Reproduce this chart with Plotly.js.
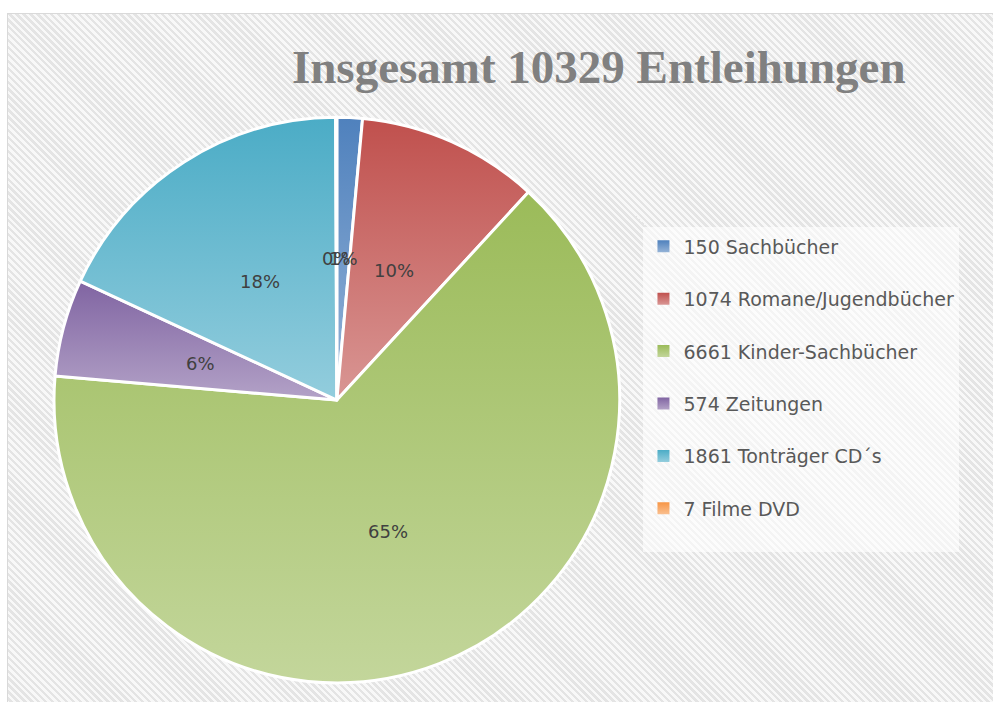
<!DOCTYPE html>
<html>
<head>
<meta charset="utf-8">
<script src="https://cdn.plot.ly/plotly-3.0.1.min.js"></script>
<style>
  html, body { margin: 0; padding: 0; background: #ffffff; }
  #wrap { position: relative; width: 993px; height: 702px; overflow: hidden; }
  #hatch {
    position: absolute; left: 7px; top: 13px; width: 1000px; height: 700px;
    border: 1px solid #d9d9d9;
    background: repeating-linear-gradient(45deg, #e4e4e4 0px, #e4e4e4 2.4px, #f8f8f8 2.4px, #f8f8f8 4.9px);
  }
  #chart { position: absolute; left: 0; top: 0; width: 993px; height: 702px; }
</style>
</head>
<body>
<div id="wrap">
  <div id="hatch"></div>
  <div id="chart"></div>
</div>
<script>
// ---- data ----
const categories = ["Sachbücher", "Romane/Jugendbücher", "Kinder-Sachbücher", "Zeitungen", "Tonträger CD´s", "Filme DVD"];
const counts = [150, 1074, 6661, 574, 1861, 7];
const legendLabels = ["150 Sachbücher", "1074 Romane/Jugendbücher", "6661 Kinder-Sachbücher", "574 Zeitungen", "1861 Tonträger CD´s", "7 Filme DVD"];
const chartTitle = "Insgesamt 10329 Entleihungen";

// ---- style ----
const baseColors = ["#4F81BD", "#C0504D", "#9BBB59", "#8064A2", "#4BACC6", "#F79646"];
const lightColors = ["#95B3D7", "#D99694", "#C3D69B", "#B3A2C7", "#93CDDD", "#FAC090"];
const midColors = ["#6F98C9", "#CC7370", "#AFC87A", "#9A83B5", "#6FBDD2", "#F8AB6B"];
const W = 993, H = 702;
const pieDomain = { x: [0.0544, 0.624], y: [0.027, 0.8333] };
const labelRadiusFrac = 0.5;   // data labels sit at half the radius on each slice bisector

const trace = {
  type: "pie",
  labels: legendLabels.map(s => s + "<br> "),  // blank second line = wider legend spacing
  values: counts,
  sort: false,
  direction: "clockwise",
  rotation: 0,
  marker: { colors: midColors, line: { color: "#ffffff", width: 3 } },
  textinfo: "none",
  hoverinfo: "label+percent",
  domain: pieDomain
};

// data labels (percentages) placed on slice bisectors, derived from the values
const total = counts.reduce((a, b) => a + b, 0);
const cx = (pieDomain.x[0] + pieDomain.x[1]) / 2;
const cy = (pieDomain.y[0] + pieDomain.y[1]) / 2;
const rPx = Math.min((pieDomain.x[1] - pieDomain.x[0]) * W, (pieDomain.y[1] - pieDomain.y[0]) * H) / 2;
let cum = 0;
const annotations = counts.map((v) => {
  const mid = (cum + v / 2) / total;
  cum += v;
  const ang = mid * 2 * Math.PI;
  return {
    xref: "paper", yref: "paper",
    x: cx + labelRadiusFrac * rPx * Math.sin(ang) / W,
    y: cy + labelRadiusFrac * rPx * Math.cos(ang) / H,
    xanchor: "center", yanchor: "middle",
    text: Math.round(100 * v / total) + "%",
    showarrow: false,
    font: { family: "DejaVu Sans, sans-serif", size: 18, color: "#404040" }
  };
});

const layout = {
  width: W, height: H,
  margin: { l: 0, r: 0, t: 0, b: 0 },
  paper_bgcolor: "rgba(0,0,0,0)",
  plot_bgcolor: "rgba(0,0,0,0)",
  title: {
    text: "<b>" + chartTitle + "</b>",
    font: { family: "Liberation Serif, serif", size: 47, color: "#808080" },
    x: 0.603, xanchor: "center", xref: "container",
    y: 0.905, yanchor: "middle", yref: "container"
  },
  annotations: annotations,
  showlegend: true,
  legend: {
    x: 0.648, xanchor: "left",
    y: 0.676, yanchor: "top",
    bgcolor: "rgba(255,255,255,0.6)",
    font: { family: "DejaVu Sans, sans-serif", size: 19, color: "#595959" },
    valign: "top",
    traceorder: "normal"
  }
};

Plotly.newPlot("chart", [trace], layout, { displayModeBar: false, staticPlot: true }).then(gd => {
  // vertical gradient (dark top -> light bottom) on each slice, like the original
  const svg = gd.querySelector("svg.main-svg");
  const ns = "http://www.w3.org/2000/svg";
  let defs = svg.querySelector("defs");
  if (!defs) { defs = document.createElementNS(ns, "defs"); svg.insertBefore(defs, svg.firstChild); }
  baseColors.forEach((c, i) => {
    const g = document.createElementNS(ns, "linearGradient");
    g.setAttribute("id", "grad" + i);
    g.setAttribute("x1", "0"); g.setAttribute("y1", "0");
    g.setAttribute("x2", "0"); g.setAttribute("y2", "1");
    const s1 = document.createElementNS(ns, "stop");
    s1.setAttribute("offset", "0"); s1.setAttribute("stop-color", c);
    const s2 = document.createElementNS(ns, "stop");
    s2.setAttribute("offset", "1"); s2.setAttribute("stop-color", lightColors[i]);
    g.appendChild(s1); g.appendChild(s2); defs.appendChild(g);
  });
  gd.querySelectorAll("g.slice path.surface").forEach((p, i) => { p.style.fill = "url(#grad" + i + ")"; });
  gd.querySelectorAll("g.legend g.traces path.legendpie").forEach((p, i) => {
    p.style.fill = "url(#grad" + i + ")"; p.style.strokeWidth = "0";
  });
});
</script>
</body>
</html>
